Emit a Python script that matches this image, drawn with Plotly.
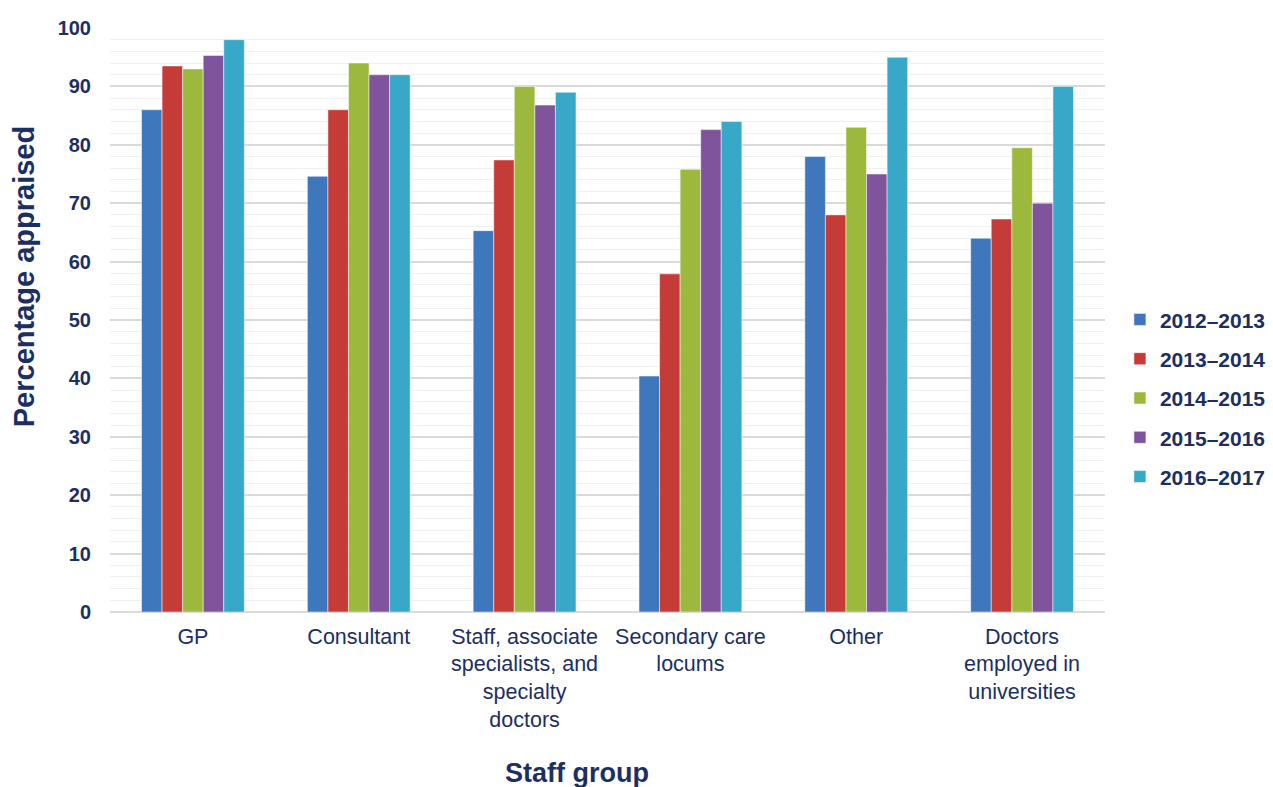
import plotly.graph_objects as go

categories = ["GP", "Consultant", "Staff, associate<br>specialists, and<br>specialty<br>doctors",
              "Secondary care<br>locums", "Other", "Doctors<br>employed in<br>universities"]
series_names = ["2012–2013", "2013–2014", "2014–2015", "2015–2016", "2016–2017"]
v2012 = [86, 74.6, 65.3, 40.4, 78, 64]
v2013 = [93.5, 86, 77.4, 57.9, 68, 67.3]
v2014 = [93, 94, 90, 75.8, 83, 79.5]
v2015 = [95.3, 92, 86.8, 82.6, 75, 70]
v2016 = [98, 92, 89, 84, 95, 90]
series_values = [v2012, v2013, v2014, v2015, v2016]
colors = ["#3F77BC", "#C43B38", "#9DB93D", "#7F549C", "#38A8C8"]

navy = "#1B2F62"
fam = "Liberation Sans, Arial, sans-serif"
fig = go.Figure()
for i, (name, vals) in enumerate(zip(series_names, series_values)):
    fig.add_trace(go.Bar(x=categories, y=vals, name=name, legendgroup=name,
                         marker=dict(color=colors[i], line=dict(color="white", width=0.5))))

fig.update_layout(
    width=1273, height=787,
    margin=dict(l=110, r=168, t=28, b=175, autoexpand=False),
    plot_bgcolor="white", paper_bgcolor="white",
    barmode="group", bargap=0.38, bargroupgap=0,
    font=dict(family=fam, color=navy),
    legend=dict(x=1.015, y=0.366, xanchor="left", yanchor="middle",
                font=dict(size=21, color=navy, family=fam, weight="bold"),
                tracegroupgap=9, traceorder="grouped"),
    annotations=[
        dict(text="Percentage appraised", xref="paper", yref="paper", x=-0.087, y=0.574,
             xanchor="center", yanchor="middle", textangle=-90, showarrow=False,
             font=dict(size=29, color=navy, family=fam, weight="bold")),
        dict(text="Staff group", xref="paper", yref="paper", x=0.469, y=-0.276,
             xanchor="center", yanchor="middle", showarrow=False,
             font=dict(size=27, color=navy, family=fam, weight="bold")),
    ],
)
fig.update_yaxes(range=[0, 100], dtick=10, showgrid=True, gridcolor="#D9D9D9", gridwidth=1.5,
                 minor=dict(dtick=2, showgrid=True, gridcolor="#F0F0F0", gridwidth=1),
                 zeroline=True, zerolinecolor="#D9D9D9", zerolinewidth=2,
                 tickfont=dict(size=20, color=navy, weight="bold"), ticklabelstandoff=18)
fig.update_xaxes(tickfont=dict(size=21.5, color=navy), showline=False, ticks="",
                 ticklabelstandoff=9)

fig.write_html("out.html")
